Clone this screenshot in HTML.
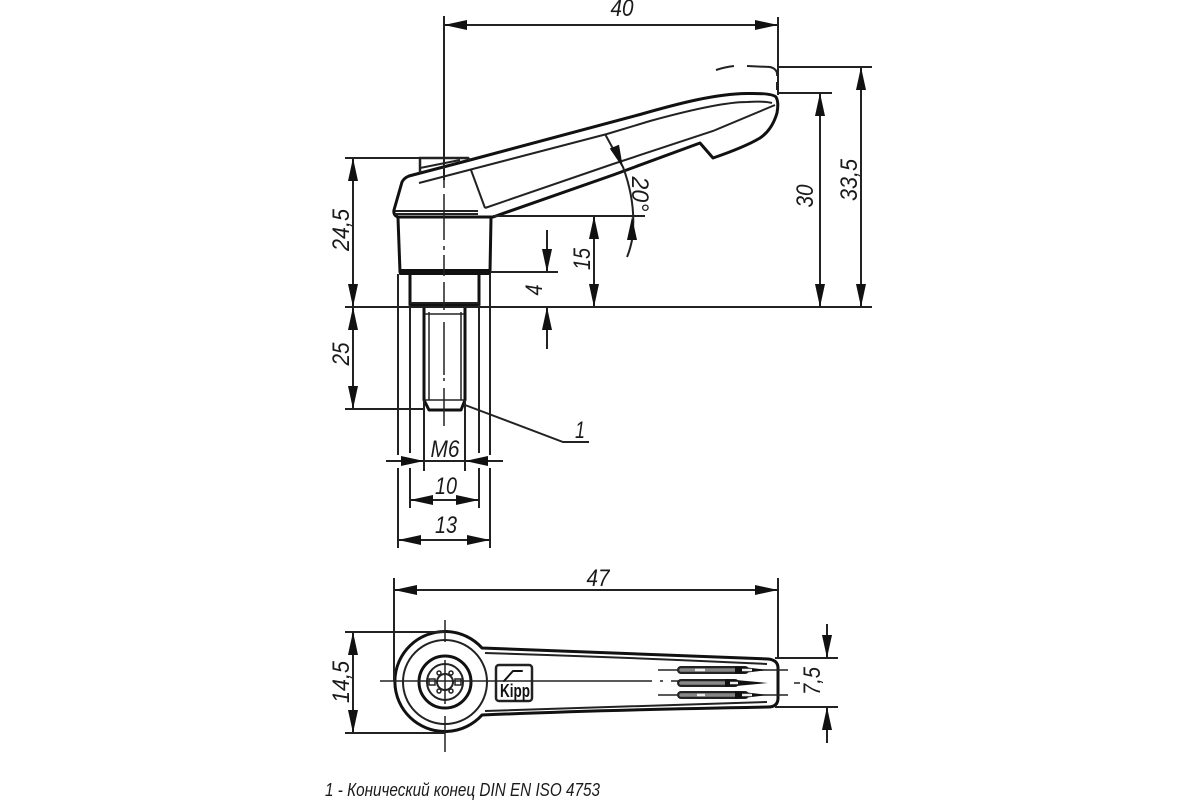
<!DOCTYPE html>
<html><head><meta charset="utf-8"><style>
html,body{margin:0;padding:0;background:#fff}
svg{display:block}
text{font-family:"Liberation Sans",sans-serif;font-style:italic;fill:#1a1a1a;font-size:24px;text-anchor:middle}
.k{fill:none;stroke:#111;stroke-width:3;stroke-linejoin:round;stroke-linecap:round}
.m{fill:none;stroke:#222;stroke-width:2}
.t{fill:none;stroke:#222;stroke-width:1.5}
.a{fill:#111;stroke:none}
</style></head><body>
<svg width="1200" height="800" viewBox="0 0 1200 800" xmlns="http://www.w3.org/2000/svg">
<defs>
<polygon id="r" class="a" points="0,0 -23,-5 -23,5"/>
</defs>

<!-- Side view handle -->
<path class="k" d="M470,160 L640,114.500 C680,103 715,94 747,93.500 Q772,93 776,97 Q779,102 777,113 Q772,130 760,138 Q745,147 713,158 L700,143 L613,175 L493,217 L398,217 Q393,215 394,210 L402,182 Q404,178 409,176 Z"/>
<path class="t" style="stroke-width:2" d="M419,183 L607,134 L650,121 C690,110 725,102 747,102 Q765,101 772,103"/>
<path class="t" style="stroke-width:2" d="M775,105 L713,131 L613,164 L485,208"/>
<path class="t" style="stroke-width:2" d="M471,170 L485,208 M395,211 H478 M395,214 H478"/>
<path class="m" style="stroke-width:2.500" d="M420,173 V158 H468 L470,160"/>
<path class="m" d="M420,168 L460,160"/>
<!-- Body -->
<path class="k" d="M398,218 L400,272 H490 L491,218"/>
<path class="k" d="M400,270 H490 V274 H400 Z" style="stroke-width:2"/>
<path class="k" d="M410,275 V305 H479 V275"/>
<path class="m" d="M410,303 H479"/>
<!-- Thread -->
<path class="k" d="M424,306 V400 L429,410 H461 L465,400 V306"/>
<path class="t" d="M429,312 V400 M461,312 V400 M425,314 H464 M425,400 H464"/>

<!-- Centerline -->
<path class="m" d="M444,16 V180"/>
<path class="t" d="M444,180 V188 M444,194 V240 M444,246 V250 M444,255 V276 M444,282 V310 M444,322 V375 M444,378 V381 M444,388 V426"/>

<!-- extension lines -->
<path class="m" d="M398,274 V455 M398,468 V548 M410,305 V453 M410,468 V508 M424,400 V471 M465,400 V471 M479,305 V453 M479,468 V508 M490,274 V455 M490,468 V548"/>
<path class="m" d="M778,17 V95 M778,67 H872 M778,93 H832 M345,158 H420 M345,307 H872 M345,409 H424 M493,216 H645 M490,272 H558"/>

<!-- Dimensions -->
<path class="m" d="M444,25 H778 M861,67 V307 M820,93 V307 M353,158 V409 M594,216 V307 M547,230 V272 M547,307 V349 M386,461 H503 M410,500 H479 M398,540 H490"/>
<use href="#r" transform="translate(444,25) rotate(180)"/>
<use href="#r" transform="translate(778,25)"/>
<use href="#r" transform="translate(861,67) rotate(-90)"/>
<use href="#r" transform="translate(861,307) rotate(90)"/>
<use href="#r" transform="translate(820,93) rotate(-90)"/>
<use href="#r" transform="translate(820,307) rotate(90)"/>
<use href="#r" transform="translate(353,158) rotate(-90)"/>
<use href="#r" transform="translate(353,307) rotate(90)"/>
<use href="#r" transform="translate(353,307) rotate(-90)"/>
<use href="#r" transform="translate(353,409) rotate(90)"/>
<use href="#r" transform="translate(594,216) rotate(-90)"/>
<use href="#r" transform="translate(594,307) rotate(90)"/>
<use href="#r" transform="translate(547,272) rotate(90)"/>
<use href="#r" transform="translate(547,307) rotate(-90)"/>
<use href="#r" transform="translate(424,461)"/>
<use href="#r" transform="translate(465,461) rotate(180)"/>
<use href="#r" transform="translate(410,500) rotate(180)"/>
<use href="#r" transform="translate(479,500)"/>
<use href="#r" transform="translate(398,540) rotate(180)"/>
<use href="#r" transform="translate(490,540)"/>

<!-- angle -->
<path class="m" d="M605,134 L623,167 Q637,205 632,240 Q630,250 627,257"/>
<use href="#r" transform="translate(623,168) rotate(68)"/>
<use href="#r" transform="translate(632,217) rotate(-90)"/>

<!-- leader -->
<path class="m" d="M465,405 L563,442 H589"/>
<!-- dashed arc -->
<path class="m" d="M716,70 Q725,67 734,66 M747,66 L770,67 Q778,69 777,76 M777,82 V90"/>

<!-- Labels -->
<text x="622" y="16" textLength="23" lengthAdjust="spacingAndGlyphs">40</text>
<text transform="translate(857,180) rotate(-90)" textLength="42" lengthAdjust="spacingAndGlyphs">33,5</text>
<text transform="translate(813,196) rotate(-90)" textLength="23" lengthAdjust="spacingAndGlyphs">30</text>
<text transform="translate(349,230) rotate(-90)" textLength="42" lengthAdjust="spacingAndGlyphs">24,5</text>
<text transform="translate(349,354) rotate(-90)" textLength="23" lengthAdjust="spacingAndGlyphs">25</text>
<text transform="translate(590,259) rotate(-90)" textLength="22" lengthAdjust="spacingAndGlyphs">15</text>
<text transform="translate(542,290) rotate(-90)" textLength="11" lengthAdjust="spacingAndGlyphs">4</text>
<text transform="translate(632,194) rotate(90)" textLength="35" lengthAdjust="spacingAndGlyphs">20°</text>
<text x="580" y="438" textLength="10" lengthAdjust="spacingAndGlyphs">1</text>
<text x="445" y="457" textLength="29" lengthAdjust="spacingAndGlyphs">M6</text>
<text x="446" y="494" textLength="22" lengthAdjust="spacingAndGlyphs">10</text>
<text x="446" y="533" textLength="22" lengthAdjust="spacingAndGlyphs">13</text>
<text x="598" y="586" textLength="23" lengthAdjust="spacingAndGlyphs">47</text>
<text transform="translate(349,682) rotate(-90)" textLength="42" lengthAdjust="spacingAndGlyphs">14,5</text>
<text transform="translate(820,681) rotate(-90)" textLength="28" lengthAdjust="spacingAndGlyphs">7,5</text>

<!-- Plan view -->
<path class="k" d="M482,648 Q600,652 768,659 Q778,660 778,668 V698 Q778,707 768,707 Q600,710 482,715 A50,50 0 1 1 482,648 Z"/>
<path class="m" d="M485,653 Q620,657 767,664 M485,711 Q620,707 767,702" style="stroke-width:2"/>
<circle class="m" cx="445" cy="682" r="42"/>
<circle class="k" cx="445" cy="682" r="26"/>
<circle class="m" cx="445" cy="682" r="18"/>
<circle class="m" cx="445" cy="682" r="8"/>
<g class="m" style="stroke-width:1.500">
<circle cx="439" cy="673" r="2"/><circle cx="451" cy="673" r="2"/>
<circle cx="439" cy="691" r="2"/><circle cx="451" cy="691" r="2"/>
<rect x="429" y="679" width="6" height="6"/><rect x="455" y="679" width="6" height="6"/>
</g>
<rect class="m" x="496" y="665" width="36" height="36" rx="3" style="stroke-width:2.500"/>
<path class="k" style="stroke-width:2" d="M504,681 L513,671 H522"/>
<text x="515" y="697" textLength="30" lengthAdjust="spacingAndGlyphs" style="font-size:18px;font-weight:bold;font-style:normal;fill:#111">Kipp</text>
<!-- Grooves -->
<g>
<path class="t" d="M658,670 H788 M794,683 H800 M658,695 H788"/>
<path class="k" style="stroke-width:8;stroke:#222" d="M681,670 H745 M681,683 H735 M681,695 H745"/>
<path class="k" style="stroke-width:3.500;stroke:#888" d="M681,670 H745 M681,683 H735 M681,695 H745"/>
<path class="a" d="M735,666 L768,670 L735,674 Z M725,679 L768,683 L725,687 Z M735,691 L768,695 L735,699 Z"/>
<path d="M695,670 H705 M697,695 H705 M742,670 H752 M742,695 H752 M730,683 H738" style="stroke:#eee;stroke-width:2.500;fill:none"/>
</g>
<!-- plan centerlines -->
<path class="t" d="M380,681 H652 M660,681 H663 M671,681 H680"/>
<path class="t" d="M445,620 V642 M445,660 V704 M445,716 V752"/>
<!-- plan dims -->
<path class="m" d="M394,578 V681 M778,578 V659 M394,590 H778 M353,632 V733 M345,632 H445 M345,733 H445 M775,658 H838 M775,707 H838 M827,624 V658 M827,707 V743"/>
<use href="#r" transform="translate(394,590) rotate(180)"/>
<use href="#r" transform="translate(778,590)"/>
<use href="#r" transform="translate(353,632) rotate(-90)"/>
<use href="#r" transform="translate(353,733) rotate(90)"/>
<use href="#r" transform="translate(827,658) rotate(90)"/>
<use href="#r" transform="translate(827,707) rotate(-90)"/>

<text x="325" y="796" textLength="275" lengthAdjust="spacingAndGlyphs" style="text-anchor:start;font-size:18px">1 - Конический конец DIN EN ISO 4753</text>
</svg>
</body></html>
